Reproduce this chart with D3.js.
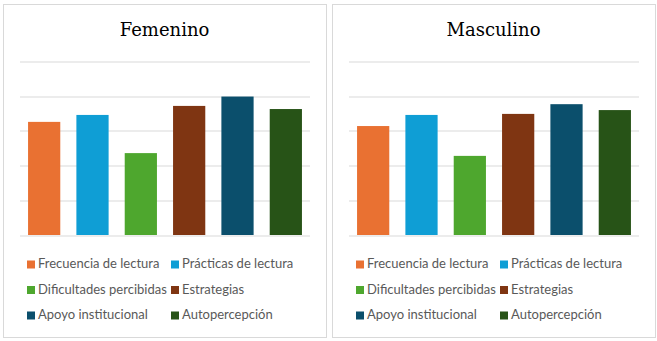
<!DOCTYPE html>
<html>
<head>
<meta charset="utf-8">
<script src="https://cdn.jsdelivr.net/npm/d3@7"></script>
<style>
  html, body { margin: 0; padding: 0; background: #ffffff; }
  svg { display: block; }
</style>
</head>
<body>
<svg id="chart" width="657" height="341"></svg>
<script>
// Dimensions of reading, mean scores by sex
const categories = [
  "Frecuencia de lectura",
  "Prácticas de lectura",
  "Dificultades percibidas",
  "Estrategias",
  "Apoyo institucional",
  "Autopercepción"
];
const femeninoValues = [3.26, 3.46, 2.36, 3.72, 3.99, 3.63];
const masculinoValues = [3.14, 3.46, 2.28, 3.49, 3.77, 3.60];
const gridTicks = [0, 1, 2, 3, 4, 5];
const panelTitles = ["Femenino", "Masculino"];
const colors = ["#E97132", "#0F9ED5", "#4EA72E", "#7F3512", "#0B4F6C", "#275317"];

const svg = d3.select("#chart");

const panels = [
  { title: panelTitles[0], values: femeninoValues, x0: 3.5 },
  { title: panelTitles[1], values: masculinoValues, x0: 332.5 }
];

const panelW = 323, panelH = 333;

panels.forEach(p => {
  const g = svg.append("g").attr("transform", `translate(${p.x0},4.5)`);

  // frame
  g.append("rect")
    .attr("width", panelW).attr("height", panelH)
    .attr("fill", "#fff").attr("stroke", "#d9d9d9").attr("stroke-width", 1);

  // title
  g.append("text")
    .attr("x", panelW / 2 - 0.5).attr("y", 31.5)
    .attr("text-anchor", "middle")
    .attr("font-family", "'DejaVu Serif', serif")
    .attr("font-size", 18)
    .attr("fill", "#000")
    .text(p.title);

  const x = d3.scaleBand()
    .domain(categories)
    .range([16.5, 306.5])
    .paddingInner(1 / 3)
    .paddingOuter(1 / 6);

  const y = d3.scaleLinear().domain([0, 5]).range([230.5, 57]);

  // horizontal gridlines
  g.append("g")
    .selectAll("line")
    .data(gridTicks)
    .join("line")
    .attr("x1", 16.5).attr("x2", 306.5)
    .attr("y1", d => Math.round(y(d)) + 0.5)
    .attr("y2", d => Math.round(y(d)) + 0.5)
    .attr("stroke", "#d9d9d9").attr("stroke-width", 1);

  // bars
  g.append("g")
    .selectAll("rect")
    .data(p.values)
    .join("rect")
    .attr("x", (d, i) => x(categories[i]))
    .attr("width", x.bandwidth())
    .attr("y", d => y(d))
    .attr("height", d => y(0) - y(d))
    .attr("fill", (d, i) => colors[i]);

  // legend, two columns
  const legendX = [23.5, 167.5];
  const legendY = [264.5, 290, 315.5];
  const lg = g.append("g")
    .selectAll("g")
    .data(categories)
    .join("g")
    .attr("transform", (d, i) => `translate(${legendX[i % 2]},${legendY[Math.floor(i / 2)] - 4.5})`);

  lg.append("rect")
    .attr("x", 0).attr("y", -4)
    .attr("width", 8).attr("height", 8)
    .attr("fill", (d, i) => colors[i]);

  lg.append("text")
    .attr("x", 11).attr("y", -1)
    .attr("dy", "0.35em")
    .attr("font-family", "Lato, 'Open Sans', sans-serif")
    .attr("font-size", 13)
    .attr("fill", "#595959")
    .text(d => d);
});
</script>
</body>
</html>
